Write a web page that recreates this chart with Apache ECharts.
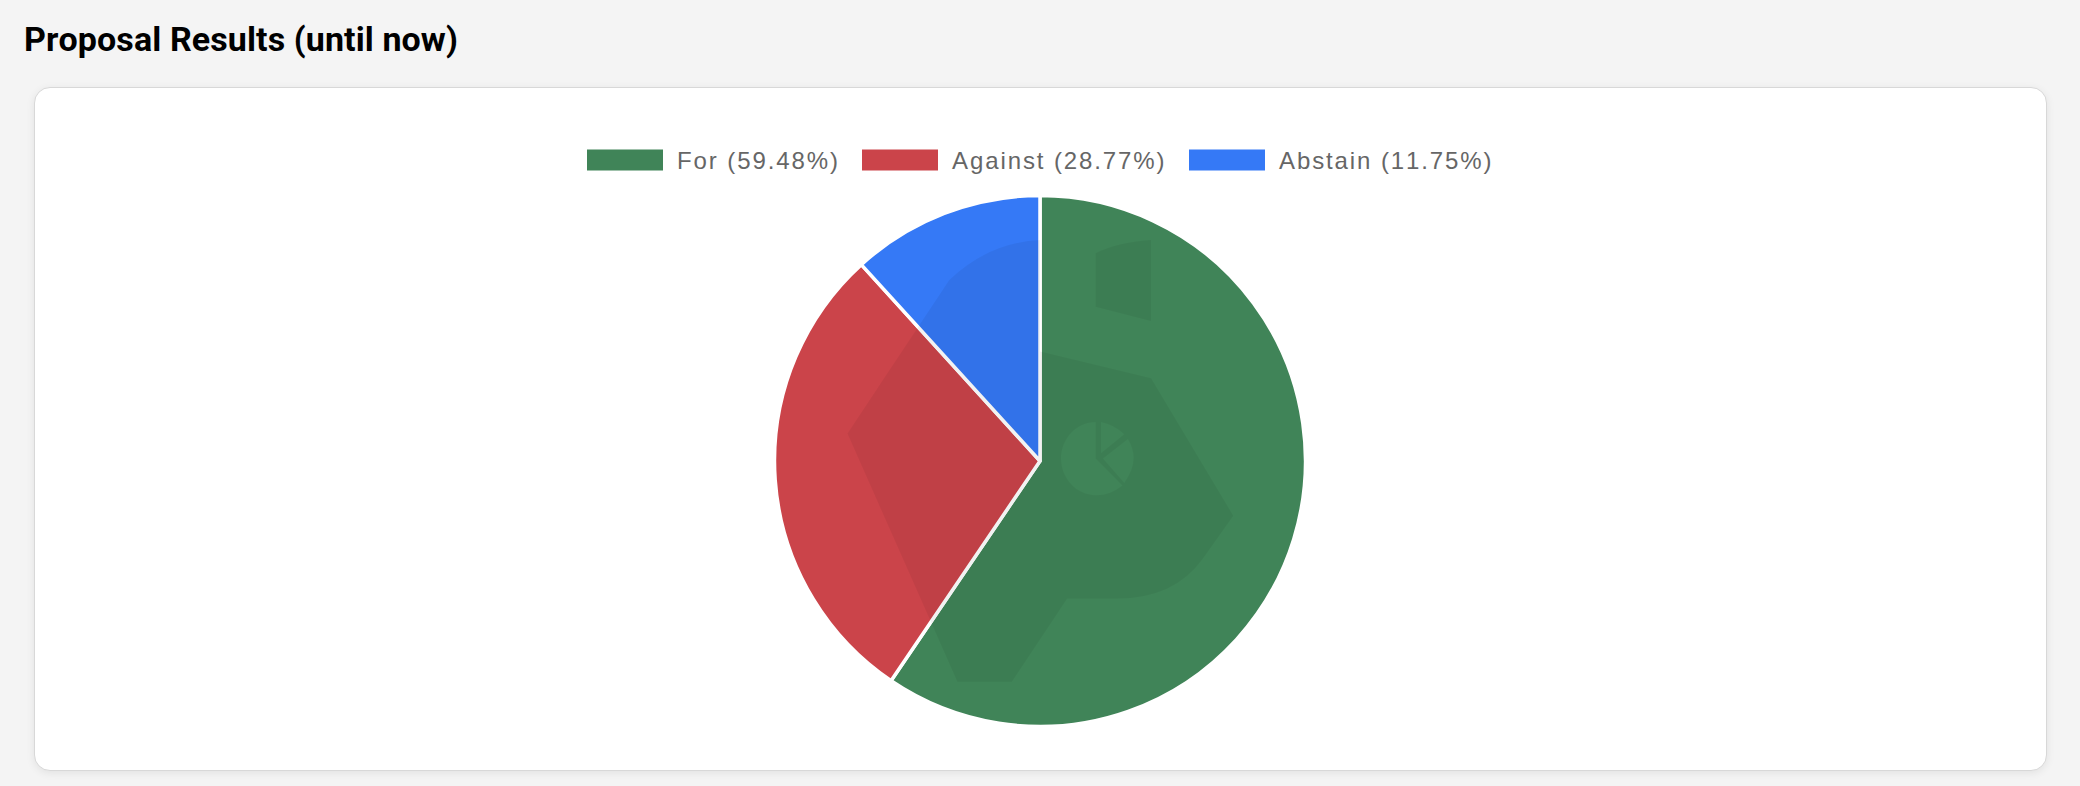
<!DOCTYPE html>
<html>
<head>
<meta charset="utf-8">
<script src="https://cdn.jsdelivr.net/npm/echarts@6/dist/echarts.min.js"></script>
<style>
html,body{margin:0;padding:0;width:2080px;height:786px;background:#f4f4f4;overflow:hidden;}
#card{position:absolute;left:34px;top:87px;width:2013px;height:684px;background:#fff;border:1px solid #d8d8d8;border-radius:16px;box-shadow:0 2px 8px rgba(0,0,0,.08);box-sizing:border-box;}
#main{position:absolute;left:0;top:0;width:2080px;height:786px;}
/* legend text is spaced out in the original */
#main text{letter-spacing:1.9px;font-kerning:none;}
#main text[style*="Roboto"]{letter-spacing:0.1px;}
</style>
</head>
<body>
<div id="card"></div>
<div id="main"></div>
<script>
var titleText = "Proposal Results (until now)";
var categories = ["For", "Against", "Abstain"];
var percents = [59.48, 28.77, 11.75];
var colors = ["#408458", "#cb444a", "#3579f6"];
var legendLefts = [587, 862, 1189];

//watermark logo that sits over the pie
echarts.graphic.registerShape("logoMark", echarts.graphic.extendShape({
	shape: {},
	buildPath: function (ctx) {
		//body, clockwise
		ctx.moveTo(1040, 240);
		ctx.lineTo(1040, 351.4);
		ctx.lineTo(1151, 378.2);
		ctx.lineTo(1233.2, 515.7);
		ctx.lineTo(1202.9, 558.6);
		ctx.quadraticCurveTo(1174.3, 598.6, 1117.1, 598.6);
		ctx.lineTo(1067.1, 598.6);
		ctx.lineTo(1011.8, 681.8);
		ctx.lineTo(957.5, 681.8);
		ctx.lineTo(847.5, 433.6);
		ctx.lineTo(949.3, 280);
		ctx.quadraticCurveTo(988.6, 242.5, 1040, 240);
		ctx.closePath();
		//small pie cut out of it, anticlockwise
		ctx.moveTo(1095.7, 458.6);
		ctx.lineTo(1095.7, 422);
		ctx.bezierCurveTo(1076, 422, 1061, 439, 1061, 458.6);
		ctx.bezierCurveTo(1061, 478, 1076, 495.2, 1095.7, 495.2);
		ctx.quadraticCurveTo(1110, 495.5, 1122.5, 485.4);
		ctx.closePath();
		ctx.moveTo(1101, 453.2);
		ctx.lineTo(1124.3, 434.3);
		ctx.quadraticCurveTo(1114, 424.5, 1101, 422);
		ctx.closePath();
		ctx.moveTo(1102.9, 458.6);
		ctx.lineTo(1124.3, 482.9);
		ctx.quadraticCurveTo(1141, 460, 1127.9, 438.9);
		ctx.closePath();
		//top right piece
		ctx.moveTo(1095.7, 253.2);
		ctx.quadraticCurveTo(1117, 242.5, 1151, 240);
		ctx.lineTo(1151, 321);
		ctx.lineTo(1095.7, 306.8);
		ctx.closePath();
	}
}));

var pieData = categories.map(function (name, i) {
	return {
		name: name + " (" + percents[i].toFixed(2) + "%)",
		value: percents[i],
		itemStyle: { color: colors[i] }
	};
});

//one legend per item, the gaps in the original are not even
var legends = pieData.map(function (item, i) {
	return {
		left: legendLefts[i],
		top: 148,
		padding: 0,
		itemWidth: 76,
		itemHeight: 21,
		icon: "rect",
		itemStyle: { borderWidth: 0 },
		data: [item.name],
		textStyle: {
			fontFamily: "Liberation Sans",
			fontSize: 24,
			color: "#666",
			padding: [2, 0, 0, 9]
		}
	};
});

var myChart = echarts.init(document.getElementById("main"), null, { renderer: "svg" });
var option = {
	animation: false,
	title: {
		text: titleText,
		left: 24,
		top: 22,
		padding: 0,
		textStyle: { fontFamily: "Roboto", fontWeight: "bold", fontSize: 34, color: "#000" }
	},
	legend: legends,
	graphic: [{
		type: "logoMark",
		silent: true,
		z: 100,
		style: { fill: "rgba(0,0,0,0.05)" }
	}],
	series: [{
		type: "pie",
		center: [1040, 461],
		radius: [0, 265.5],
		startAngle: 90,
		clockwise: true,
		label: { show: false },
		labelLine: { show: false },
		itemStyle: { borderColor: "#fff", borderWidth: 3.5 },
		data: pieData
	}]
};
myChart.setOption(option);
</script>
</body>
</html>
